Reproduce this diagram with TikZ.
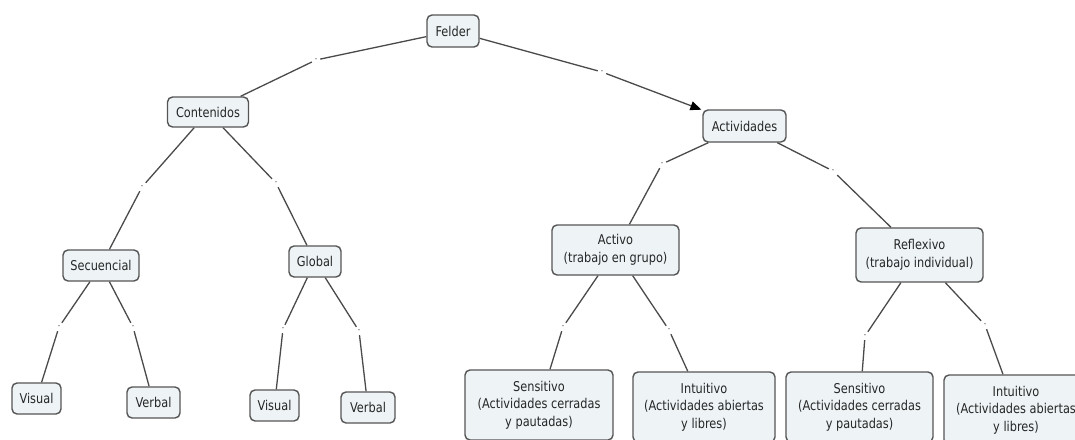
\documentclass[tikz,border=0pt]{standalone}
\usepackage{fontspec}
\setmainfont{DejaVu Sans}[FakeStretch=0.84]
\usetikzlibrary{arrows.meta}
\definecolor{boxfill}{HTML}{EEF4F6}
\definecolor{boxline}{HTML}{555555}
\definecolor{txt}{HTML}{262626}
\definecolor{lnk}{HTML}{4A4A4A}
\begin{document}
\begin{tikzpicture}[x=1pt,y=-1pt,
  concept/.style={draw=boxline, line width=1.4pt, fill=boxfill, rounded corners=5pt,
    text=txt, font=\fontsize{13.5}{17.5}\selectfont, align=center, inner sep=0pt},
  lbl/.style={inner sep=0pt, minimum width=8pt, minimum height=8pt, text=lnk,
    font=\fontsize{8}{8}\selectfont},
  link/.style={draw=lnk, line width=1.3pt},
  arrowlink/.style={link, -{Triangle[length=11pt,width=9pt,fill=black,color=black]}, shorten >=1pt},
]
\useasboundingbox (0,0) rectangle (1075,439);
\clip (0,0) rectangle (1075,439);

% concepts
\node[concept, minimum width=52pt, minimum height=32pt] (felder) at (453,31) {Felder};
\node[concept, minimum width=81pt, minimum height=30pt] (cont) at (208,112) {Contenidos};
\node[concept, minimum width=83pt, minimum height=32pt] (activ) at (744.5,126) {Actividades};
\node[concept, minimum width=76pt, minimum height=31pt] (secu) at (101,265.5) {Secuencial};
\node[concept, minimum width=52pt, minimum height=31pt] (glob) at (315,261.5) {Global};
\node[concept, minimum width=49pt, minimum height=31pt] (vis1) at (36.5,398.5) {Visual};
\node[concept, minimum width=53pt, minimum height=31pt] (ver1) at (153.5,402.5) {Verbal};
\node[concept, minimum width=49pt, minimum height=31pt] (vis2) at (274.5,405.5) {Visual};
\node[concept, minimum width=54pt, minimum height=31pt] (ver2) at (368,407.5) {Verbal};
\node[concept, minimum width=127pt, minimum height=50pt] (activo) at (615.5,250) {Activo\\(trabajo en grupo)};
\node[concept, minimum width=127pt, minimum height=54pt] (reflex) at (919.5,255) {Reflexivo\\(trabajo individual)};
\node[concept, minimum width=148pt, minimum height=70pt] (sens1) at (539,405) {Sensitivo\\(Actividades cerradas\\y pautadas)};
\node[concept, minimum width=142pt, minimum height=70pt] (intu1) at (704,407) {Intuitivo\\(Actividades abiertas\\y libres)};
\node[concept, minimum width=147pt, minimum height=70pt] (sens2) at (859.5,407) {Sensitivo\\(Actividades cerradas\\y pautadas)};
\node[concept, minimum width=144pt, minimum height=70pt] (intu2) at (1016,410) {Intuitivo\\(Actividades abiertas\\y libres)};

% link labels
\node[lbl] (l1) at (316,60) {-};
\node[lbl] (l2) at (602,72) {-};
\node[lbl] (l3) at (142,187) {-};
\node[lbl] (l4) at (276,183) {-};
\node[lbl] (l5) at (59,327) {-};
\node[lbl] (l6) at (133,327) {-};
\node[lbl] (l7) at (283,329) {-};
\node[lbl] (l8) at (359,331) {-};
\node[lbl] (l9) at (662,164) {-};
\node[lbl] (l10) at (833,171) {-};
\node[lbl] (l11) at (563,327) {-};
\node[lbl] (l12) at (669,330) {-};
\node[lbl] (l13) at (865,336) {-};
\node[lbl] (l14) at (985,325) {-};

% connectors
\draw[link] (felder) -- (l1);
\draw[link] (l1) -- (cont);
\draw[link] (felder) -- (l2);
\draw[arrowlink] (l2) -- (activ);
\draw[link] (cont) -- (l3);
\draw[link] (l3) -- (secu);
\draw[link] (cont) -- (l4);
\draw[link] (l4) -- (glob);
\draw[link] (secu) -- (l5);
\draw[link] (l5) -- (vis1);
\draw[link] (secu) -- (l6);
\draw[link] (l6) -- (ver1);
\draw[link] (glob) -- (l7);
\draw[link] (l7) -- (vis2);
\draw[link] (glob) -- (l8);
\draw[link] (l8) -- (ver2);
\draw[link] (activ) -- (l9);
\draw[link] (l9) -- (activo);
\draw[link] (activ) -- (l10);
\draw[link] (l10) -- (reflex);
\draw[link] (activo) -- (l11);
\draw[link] (l11) -- (sens1);
\draw[link] (activo) -- (l12);
\draw[link] (l12) -- (intu1);
\draw[link] (reflex) -- (l13);
\draw[link] (l13) -- (sens2);
\draw[link] (reflex) -- (l14);
\draw[link] (l14) -- (intu2);
\end{tikzpicture}
\end{document}
